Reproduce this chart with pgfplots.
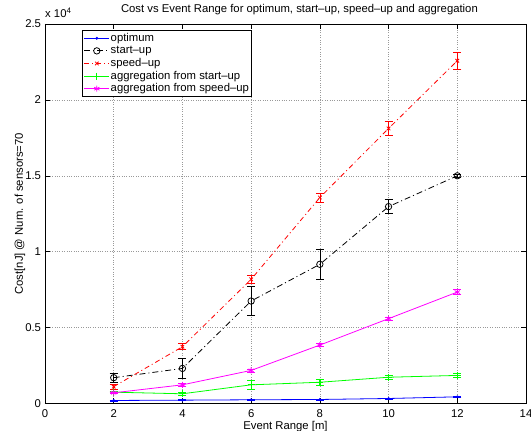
\documentclass[border=0pt]{standalone}
\usepackage{fontspec}
\setmainfont{Liberation Sans}
\usepackage{pgfplots}
\pgfplotsset{compat=1.18}
\definecolor{mblue}{rgb}{0,0,1}
\definecolor{mgreen}{rgb}{0,1,0}
\definecolor{mmag}{rgb}{1,0,1}
\newcommand{\fs}{\fontsize{11.3bp}{13bp}\selectfont}
\begin{document}
\fs
\begin{tikzpicture}
\path[use as bounding box] (-45bp,-27bp) rectangle (486bp,403.5bp);
\begin{axis}[
  at={(0,0)}, anchor=south west,
  scale only axis, width=481bp, height=379.5bp,
  clip mode=individual,
  xmin=0, xmax=14, ymin=0, ymax=25000,
  xtick={0,2,...,14}, ytick={0,5000,...,25000},
  yticklabels={0,0.5,1,1.5,2,2.5},
  scaled y ticks=false,
  tick align=inside, major tick length=5bp,
  tick style={line width=0.6pt, black},
  grid=major, grid style={dotted, gray!80, line width=0.6pt},
  axis line style={line width=0.9pt},
  /pgf/number format/assume math mode=true,
  ticklabel style={font=\fs},
  xticklabel style={yshift=-2bp},
  xlabel={Event Range [m]},
  xlabel style={at={(axis description cs:0.5,-0.068)}, anchor=base, inner sep=0pt, font=\fs},
  ylabel={Cost[nJ] @ Num. of sensors=70},
  ylabel style={at={(axis description cs:-0.052,0.5)}, anchor=center, inner sep=0pt, font=\fs},
  legend cell align=left,
  legend style={at={(axis description cs:0.077,0.984)}, anchor=north west,
    draw=black, line width=0.8pt, fill=white, inner sep=1.5bp,
    nodes={inner sep=1bp, text height=8.3bp, text depth=2.3bp, font=\fs},
    row sep=0pt},
  legend image code/.code={\draw[mark repeat=2,mark phase=2,#1] plot coordinates {(0bp,0bp)(12.5bp,0bp)(25bp,0bp)};},
  every axis plot/.append style={line width=0.8pt},
  error bars/error bar style={solid, line width=0.6pt},
  error bars/error mark options={solid, line width=0.6pt, rotate=90, mark size=4bp},
]
% optimum
\addplot[mblue, mark=*, mark size=1bp, mark options={solid},
  error bars/.cd, y dir=both, y explicit]
  coordinates {(2,200) +- (0,30) (4,220) +- (0,30) (6,245) +- (0,30) (8,265) +- (0,30) (10,330) +- (0,30) (12,440) +- (0,40)};
\addlegendentry{optimum}
% start-up
\addplot[black, mark=o, mark size=3.2bp, mark options={solid}, dash pattern=on 6bp off 3bp on 1bp off 3bp,
  error bars/.cd, y dir=both, y explicit]
  coordinates {(2,1700) +- (0,300) (4,2310) +- (0,660) (6,6750) +- (0,970) (8,9170) +- (0,970) (10,12970) +- (0,460) (12,15000) +- (0,110)};
\addlegendentry{start--up}
% speed-up
\addplot[red, mark=x, mark size=2.5bp, mark options={solid}, dash pattern=on 5bp off 3bp on 1bp off 3bp,
  error bars/.cd, y dir=both, y explicit]
  coordinates {(2,1110) +- (0,150) (4,3740) +- (0,200) (6,8180) +- (0,265) (8,13570) +- (0,300) (10,18120) +- (0,475) (12,22580) +- (0,550)};
\addlegendentry{speed--up}
% aggregation from start-up
\addplot[mgreen, mark=+, mark size=3.5bp, mark options={solid},
  error bars/.cd, y dir=both, y explicit]
  coordinates {(2,745) +- (0,80) (4,640) +- (0,90) (6,1230) +- (0,300) (8,1400) +- (0,200) (10,1730) +- (0,150) (12,1850) +- (0,120)};
\addlegendentry{aggregation from start--up}
% aggregation from speed-up
\addplot[mmag, mark=asterisk, mark size=3bp, mark options={solid},
  error bars/.cd, y dir=both, y explicit]
  coordinates {(2,705) +- (0,60) (4,1230) +- (0,70) (6,2180) +- (0,100) (8,3850) +- (0,110) (10,5590) +- (0,120) (12,7340) +- (0,160)};
\addlegendentry{aggregation from speed--up}
\node[anchor=base west, inner sep=0pt] at (axis description cs:0,1) [yshift=6bp] {x 10\raisebox{4.5bp}{\fontsize{8bp}{9bp}\selectfont 4}};
\node[anchor=base, inner sep=0pt] at (axis description cs:0.529,1) [yshift=11bp] {Cost vs Event Range for optimum, start--up, speed--up and aggregation};
\end{axis}
\end{tikzpicture}
\end{document}
